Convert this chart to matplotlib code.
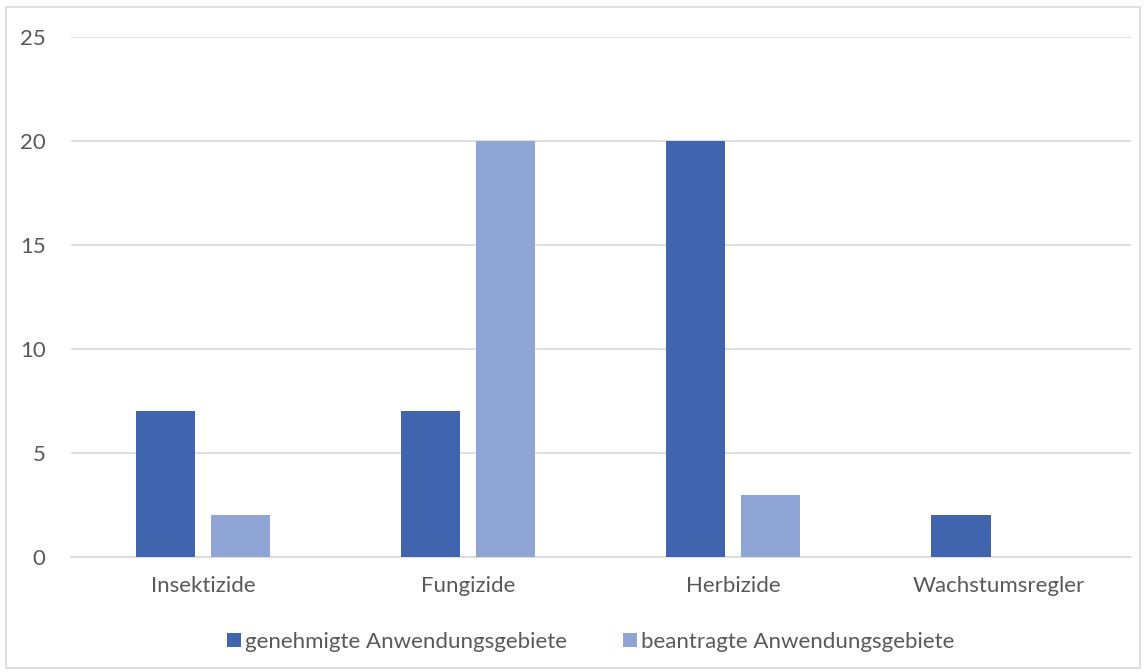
"""Grouped bar chart: Anwendungsgebiete by Wirkstoffgruppe."""

import matplotlib

matplotlib.use("Agg")
import matplotlib.pyplot as plt
import numpy as np
from matplotlib.patches import Rectangle

categories = ["Insektizide", "Fungizide", "Herbizide", "Wachstumsregler"]
genehmigt = [7, 7, 20, 2]
beantragt = [2, 20, 3, 0]
series_labels = ["genehmigte Anwendungsgebiete", "beantragte Anwendungsgebiete"]
y_ticks = [0, 5, 10, 15, 20, 25]

DARK = "#4064AD"
LIGHT = "#8FA5D5"
TEXT = "#595959"
GRID = "#D9D9D9"

plt.rcParams["font.family"] = ["Lato", "DejaVu Sans"]

fig = plt.figure(figsize=(11.47, 6.72), dpi=100)
ax = fig.add_axes([0.0615, 0.1711, 0.9245, 0.7738])

x = np.arange(len(categories))
width = 0.223
offset = 0.141
b1 = ax.bar(x - offset, genehmigt, width, color=DARK, label=series_labels[0], zorder=3)
b2 = ax.bar(x + offset, beantragt, width, color=LIGHT, label=series_labels[1], zorder=3)

ax.set_xlim(-0.5, len(categories) - 0.5)
ax.set_ylim(0, 25)
ax.set_yticks(y_ticks)
ax.set_xticks(x)
ax.set_xticklabels(categories)
ax.tick_params(axis="both", length=0, colors=TEXT, labelsize=16)
ax.tick_params(axis="y", pad=18)
ax.tick_params(axis="x", pad=14)
ax.yaxis.grid(True, color=GRID, linewidth=1.2, zorder=0)
for side in ["top", "right", "left"]:
    ax.spines[side].set_visible(False)
ax.spines["bottom"].set_color(GRID)
ax.spines["bottom"].set_linewidth(1.2)

fig.legend(
    handles=[b1, b2],
    loc="center",
    bbox_to_anchor=(0.515, 0.045),
    ncol=2,
    frameon=False,
    fontsize=16,
    labelcolor=TEXT,
    handlelength=0.64,
    handleheight=0.64,
    handletextpad=0.2,
    columnspacing=2.5,
)

fig.add_artist(Rectangle((6 / 1147, 4 / 672), 1134 / 1147, 661 / 672,
                         transform=fig.transFigure, fill=False,
                         edgecolor=GRID, linewidth=1.2))

plt.savefig("out.png", dpi=100)
plt.close()
